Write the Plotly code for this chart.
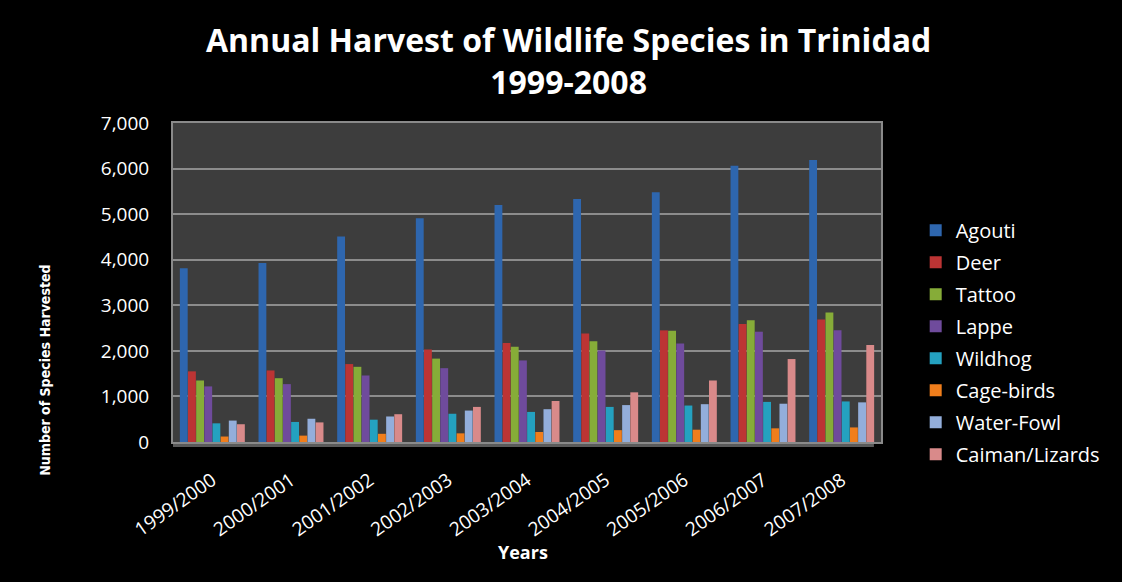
import plotly.graph_objects as go

# Harvest season labels
years = ["1999/2000", "2000/2001", "2001/2002", "2002/2003", "2003/2004",
         "2004/2005", "2005/2006", "2006/2007", "2007/2008"]

# Number of animals harvested per species
agouti = [3810, 3930, 4510, 4910, 5200, 5330, 5480, 6060, 6190]
deer = [1550, 1570, 1710, 2030, 2170, 2380, 2450, 2590, 2690]
tattoo = [1350, 1400, 1650, 1830, 2090, 2210, 2440, 2670, 2840]
lappe = [1220, 1270, 1460, 1620, 1790, 2010, 2160, 2420, 2450]
wildhog = [410, 440, 490, 620, 660, 770, 800, 880, 890]
cage_birds = [120, 140, 180, 190, 220, 260, 270, 300, 320]
water_fowl = [470, 510, 560, 690, 720, 810, 830, 840, 870]
caiman_lizards = [390, 430, 610, 770, 900, 1090, 1350, 1820, 2130]

series = [
    ("Agouti", agouti, "#2E66AE"),
    ("Deer", deer, "#BC3434"),
    ("Tattoo", tattoo, "#86AC38"),
    ("Lappe", lappe, "#6F4B9C"),
    ("Wildhog", wildhog, "#24A1C0"),
    ("Cage-birds", cage_birds, "#F07E1C"),
    ("Water-Fowl", water_fowl, "#93AEDB"),
    ("Caiman/Lizards", caiman_lizards, "#D98A8A"),
]

FONT = "Open Sans, Lato, sans-serif"
NARROW = "Liberation Sans Narrow, DejaVu Sans Condensed, sans-serif"

fig = go.Figure()
for name, vals, color in series:
    fig.add_trace(go.Bar(
        x=years, y=vals, name=name, legendgroup=name,
        marker=dict(color=color, line=dict(width=0)),
    ))

fig.update_layout(
    width=1122, height=582,
    paper_bgcolor="black",
    plot_bgcolor="#3D3D3D",
    barmode="group",
    bargap=0.17,
    bargroupgap=0.04,
    margin=dict(l=173, r=241, t=123, b=140),
    legend=dict(
        x=1.049, xanchor="left", y=0.725, yanchor="top",
        font=dict(family=FONT, size=20, color="white"),
        tracegroupgap=3,
        bgcolor="rgba(0,0,0,0)",
        itemclick=False,
    ),
    xaxis=dict(
        tickangle=-35,
        tickfont=dict(family=FONT, size=19, color="white"),
        showline=True, linecolor="#8A8A8A", linewidth=2, mirror=True,
        ticks="", ticklabelstandoff=18,
    ),
    yaxis=dict(
        range=[0, 7000],
        dtick=1000,
        tickformat=",d",
        tickfont=dict(family=FONT, size=19, color="white"),
        gridcolor="#8C8C8C", gridwidth=2,
        showline=True, linecolor="#8A8A8A", linewidth=2, mirror=True,
        zeroline=False,
        ticks="", ticklabelstandoff=18,
    ),
    showlegend=True,
)

# Floor edge under the bars
fig.add_shape(
    type="rect", xref="paper", yref="paper",
    x0=0, x1=0.99, y0=-0.016, y1=0,
    line=dict(width=0), fillcolor="#5A5A5A", layer="below",
)

# Two-line chart title
fig.add_annotation(
    text="<b>Annual Harvest of Wildlife Species in Trinidad<br>1999-2008</b>",
    xref="paper", yref="paper", x=0.559, y=1.195,
    xanchor="center", yanchor="middle", showarrow=False,
    font=dict(family=FONT, size=32, color="white"),
)

# Axis titles
fig.add_annotation(
    text="<b>Years</b>",
    xref="paper", yref="paper", x=0.494, y=-0.345,
    xanchor="center", yanchor="middle", showarrow=False,
    font=dict(family=FONT, size=18, color="white"),
)
fig.add_annotation(
    text="<b>Number of Species Harvested</b>",
    xref="paper", yref="paper", x=-0.181, y=0.226,
    xanchor="center", yanchor="middle", textangle=-90, showarrow=False,
    font=dict(family=NARROW, size=14, color="white"),
)

fig.write_html("out.html")
